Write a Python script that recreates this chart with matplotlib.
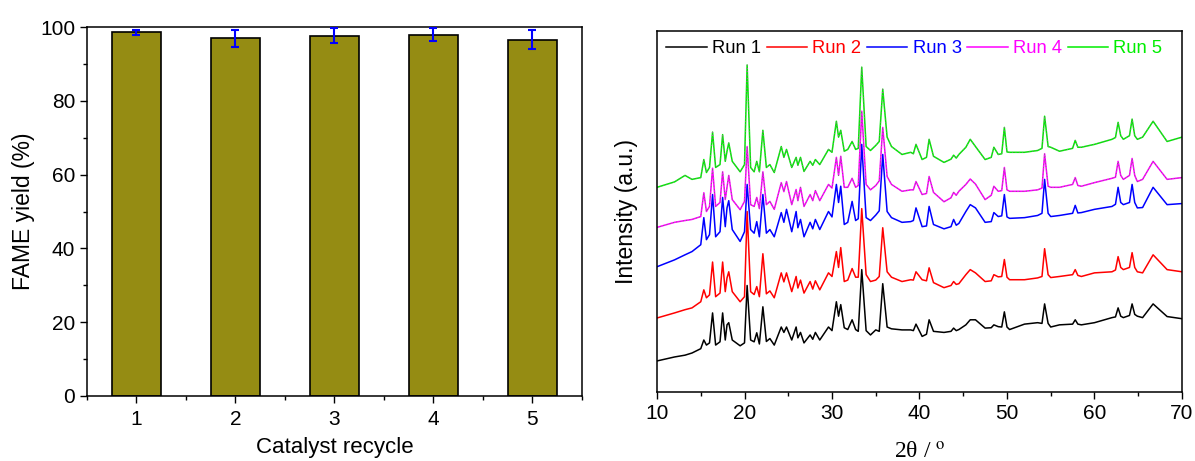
import numpy as np
import matplotlib
matplotlib.use('Agg')
import matplotlib.pyplot as plt
from matplotlib.ticker import MultipleLocator

plt.rcParams['font.family'] = ['Liberation Sans', 'DejaVu Sans']
plt.rcParams['mathtext.fontset'] = 'stix'

# left panel: catalyst recycling
cycles = [1, 2, 3, 4, 5]
fame_yield = [98.6, 97.0, 97.7, 98.0, 96.6]
fame_err = [0.7, 2.3, 2.0, 1.8, 2.6]

# right panel: XRD patterns (stacked, arbitrary units)
two_theta = [10.0, 12.0, 13.2, 14.0, 15.0, 15.35, 15.65, 16.0, 16.35, 16.7,
             17.2, 17.5, 17.8, 18.0, 18.2, 18.6, 19.5, 20.0, 20.3, 20.7,
             21.1, 21.4, 21.7, 22.1, 22.5, 22.9, 23.4, 24.2, 24.5, 24.8,
             25.4, 25.9, 26.1, 26.4, 26.8, 27.5, 27.8, 28.1, 28.6, 29.6,
             30.0, 30.5, 30.75, 31.0, 31.4, 31.8, 32.3, 32.7, 33.0, 33.4,
             33.9, 34.4, 35.0, 35.4, 35.8, 36.3, 36.8, 38.0, 39.0, 39.3,
             39.6, 40.3, 40.8, 41.1, 41.6, 42.8, 43.6, 43.9, 44.2, 44.5,
             45.3, 45.8, 46.4, 47.5, 48.2, 48.5, 49.0, 49.4, 49.7, 50.0,
             50.3, 52.0, 53.5, 54.0, 54.3, 54.7, 55.0, 56.0, 57.5, 57.8,
             58.1, 58.5, 60.0, 62.0, 62.4, 62.7, 63.0, 63.3, 64.0, 64.3,
             64.6, 64.9, 65.5, 66.7, 68.3, 70.0]

run1 = [8.6, 9.7, 10.2, 10.8, 12.0, 14.4, 13.0, 13.6, 21.9, 13.0,
        13.9, 21.9, 14.4, 18.6, 19.2, 14.4, 12.8, 13.6, 29.5, 14.4,
        13.9, 16.4, 13.3, 23.6, 14.0, 14.8, 13.0, 18.0, 16.5, 18.0,
        14.4, 18.0, 15.0, 16.5, 13.6, 15.8, 14.6, 16.5, 14.4, 18.0,
        17.0, 25.0, 21.0, 24.2, 17.8, 17.3, 20.0, 17.3, 16.8, 33.9,
        17.0, 15.8, 17.2, 16.8, 30.0, 18.0, 17.5, 17.2, 17.2, 17.0,
        18.8, 15.4, 16.0, 20.0, 16.8, 16.5, 16.8, 17.7, 17.0, 17.3,
        18.6, 20.0, 20.0, 17.7, 17.8, 18.6, 18.1, 18.0, 22.2, 18.0,
        17.3, 18.8, 19.2, 19.0, 24.4, 19.0, 18.0, 18.6, 18.8, 20.0,
        18.8, 18.6, 19.2, 20.6, 20.8, 23.3, 21.0, 20.6, 21.2, 24.4,
        21.5, 21.0, 20.6, 24.4, 20.9, 20.3]

run2 = [20.5, 21.9, 22.8, 23.3, 25.0, 28.3, 26.1, 26.9, 36.0, 26.4,
        27.4, 36.0, 27.8, 31.6, 33.3, 27.8, 25.0, 26.4, 50.0, 27.8,
        27.0, 29.2, 26.4, 38.3, 27.2, 28.0, 26.1, 33.0, 30.5, 33.0,
        27.8, 32.0, 28.8, 31.0, 27.4, 30.6, 28.5, 30.8, 28.3, 33.0,
        32.0, 38.9, 34.5, 40.0, 30.6, 31.0, 34.2, 31.8, 31.8, 50.8,
        32.5, 30.6, 31.0, 32.0, 45.5, 33.3, 31.8, 30.6, 31.1, 31.0,
        33.3, 31.1, 30.8, 34.4, 30.3, 28.9, 29.5, 30.6, 29.8, 30.0,
        32.5, 33.9, 33.0, 30.6, 30.8, 32.5, 31.9, 32.0, 36.7, 31.8,
        31.1, 31.1, 31.6, 32.0, 39.7, 32.5, 31.7, 32.0, 32.5, 33.9,
        32.3, 32.0, 33.0, 33.3, 33.8, 37.5, 34.5, 33.9, 34.5, 38.6,
        34.5, 33.3, 33.0, 38.0, 33.9, 33.3]

run3 = [34.7, 36.6, 38.0, 38.9, 40.8, 48.3, 42.2, 43.6, 54.7, 43.0,
        44.4, 53.9, 45.8, 51.0, 53.0, 45.0, 41.7, 44.4, 57.5, 45.0,
        44.0, 47.2, 43.0, 54.7, 44.0, 45.0, 43.0, 49.7, 47.0, 50.6,
        44.4, 50.0, 45.5, 47.8, 43.0, 47.0, 45.2, 47.8, 45.0, 50.0,
        48.5, 57.5, 52.5, 57.0, 46.4, 47.0, 52.8, 47.5, 48.0, 68.6,
        48.3, 47.5, 49.0, 50.2, 65.8, 50.0, 48.3, 47.0, 47.2, 47.5,
        51.0, 45.8, 46.0, 51.4, 46.4, 45.2, 45.8, 47.8, 46.2, 46.7,
        50.0, 51.9, 51.0, 47.0, 47.2, 49.7, 48.6, 48.8, 54.7, 48.5,
        48.1, 48.3, 48.9, 49.5, 58.9, 49.5, 48.6, 48.9, 49.5, 51.7,
        49.6, 49.7, 50.6, 51.4, 52.0, 56.7, 52.5, 51.9, 52.5, 57.5,
        52.5, 51.0, 51.1, 56.7, 51.9, 52.2]

run4 = [45.6, 47.0, 47.5, 47.8, 48.6, 55.2, 50.0, 51.4, 62.0, 51.4,
        52.5, 61.0, 53.3, 56.7, 60.0, 53.3, 50.5, 52.8, 68.0, 51.9,
        51.4, 53.9, 50.8, 61.0, 51.9, 52.8, 50.6, 58.0, 55.5, 58.3,
        51.9, 56.1, 53.0, 56.7, 51.4, 54.7, 53.0, 55.8, 53.0, 57.5,
        56.5, 65.0, 60.0, 65.3, 56.7, 56.7, 59.2, 56.7, 57.2, 77.8,
        57.5, 56.0, 57.2, 58.5, 73.3, 59.7, 57.5, 55.6, 56.0, 56.0,
        58.3, 54.7, 55.0, 59.7, 55.3, 52.7, 53.8, 55.3, 54.5, 55.6,
        57.5, 59.0, 57.6, 53.3, 54.5, 57.0, 55.6, 55.8, 62.2, 56.0,
        55.6, 55.6, 56.0, 56.5, 66.0, 57.0, 56.7, 56.7, 57.5, 59.4,
        57.2, 57.0, 58.0, 59.2, 59.5, 63.9, 60.0, 58.9, 60.0, 64.7,
        60.0, 58.3, 58.9, 63.9, 58.9, 59.4]

run5 = [56.7, 58.2, 60.0, 58.9, 59.4, 64.4, 60.8, 62.2, 72.0, 62.2,
        63.0, 71.3, 63.9, 66.7, 69.0, 63.9, 61.0, 63.0, 90.6, 62.2,
        61.0, 63.9, 61.0, 72.5, 62.2, 63.0, 60.8, 68.0, 65.0, 67.2,
        62.2, 65.0, 62.8, 65.0, 61.1, 63.9, 62.8, 64.4, 63.0, 67.2,
        66.4, 75.0, 70.6, 72.5, 66.7, 67.2, 69.4, 67.2, 67.5, 90.0,
        68.0, 66.9, 68.3, 69.4, 83.9, 70.6, 68.0, 65.8, 66.4, 66.0,
        68.6, 64.4, 65.0, 70.0, 65.3, 63.6, 64.5, 65.6, 64.8, 65.8,
        67.8, 70.0, 68.0, 64.4, 65.0, 67.8, 65.8, 66.0, 73.3, 66.5,
        66.4, 66.4, 66.9, 67.5, 76.4, 68.0, 67.8, 66.7, 67.5, 69.7,
        67.8, 67.8, 68.6, 70.0, 70.5, 74.7, 71.0, 70.0, 71.0, 75.6,
        71.0, 70.0, 70.6, 75.0, 69.4, 70.6]

run_labels = ['Run 1', 'Run 2', 'Run 3', 'Run 4', 'Run 5']
run_colors = ['#000000', '#ff0000', '#0000ff', '#ff00ff', '#00ee00']

fig = plt.figure(figsize=(11.95, 4.61), dpi=100)

# ---- bar chart ----
ax1 = fig.add_axes([0.0728, 0.141, 0.414, 0.800])
ax1.bar(cycles, fame_yield, width=0.5, color='#958c13', edgecolor='black',
        linewidth=1.2, zorder=2)
ax1.errorbar(cycles, fame_yield, yerr=fame_err, fmt='none', ecolor='#0000ff',
             elinewidth=1.5, capsize=3, capthick=1.5, zorder=3)
ax1.set_xlim(0.5, 5.5)
ax1.set_ylim(0, 100)
ax1.yaxis.set_major_locator(MultipleLocator(20))
ax1.yaxis.set_minor_locator(MultipleLocator(10))
ax1.xaxis.set_major_locator(MultipleLocator(1))
ax1.xaxis.set_minor_locator(MultipleLocator(0.5))
ax1.tick_params(which='both', direction='out', top=False, right=False,
                width=1)
ax1.tick_params(axis='y', labelsize=15)
ax1.tick_params(axis='x', labelsize=15, pad=5)
ax1.tick_params(which='major', length=5)
ax1.tick_params(which='minor', length=3)
ax1.set_xlabel('Catalyst recycle', fontsize=16, labelpad=6)
ax1.set_ylabel('FAME yield (%)', fontsize=16.5, labelpad=4)
for sp in ax1.spines.values():
    sp.set_linewidth(1.1)

# ---- XRD patterns ----
ax2 = fig.add_axes([0.5498, 0.1497, 0.4393, 0.783])
runs = [run1, run2, run3, run4, run5]
handles = []
for y, lab, c in zip(runs, run_labels, run_colors):
    h, = ax2.plot(two_theta, y, color=c, lw=1.1, label=lab)
    handles.append(h)
# runs 4 and 5 look mixed in the original
ax2.plot(two_theta, run4, color='#00ee00', lw=0.6, ls=(0, (1, 3)), alpha=0.7)
ax2.plot(two_theta, run5, color='#ff00ff', lw=0.6, ls=(0, (1, 3)), alpha=0.7)

ax2.set_xlim(10, 70)
ax2.set_ylim(0, 100)
ax2.set_yticks([])
ax2.xaxis.set_major_locator(MultipleLocator(10))
ax2.xaxis.set_minor_locator(MultipleLocator(5))
ax2.tick_params(which='both', direction='out', top=False, labelsize=15,
                width=1)
ax2.tick_params(which='major', length=5)
ax2.tick_params(which='minor', length=3)
ax2.set_ylabel('Intensity (a.u.)', fontsize=16.5, labelpad=14)
ax2.set_xlabel('2θ / $^{\\rm o}$', fontsize=17, labelpad=14,
               family=['Liberation Serif', 'DejaVu Serif'])
for sp in ax2.spines.values():
    sp.set_linewidth(1.1)

leg = ax2.legend(handles=handles, loc='upper left', bbox_to_anchor=(0.0, 1.0),
                 ncol=5, frameon=False, fontsize=13.2, handlelength=2.2,
                 handletextpad=0.3, columnspacing=0.3, borderaxespad=0.3,
                 borderpad=0.2)
for txt, c in zip(leg.get_texts(), run_colors):
    txt.set_color(c)

fig.savefig('out.png', dpi=100)
